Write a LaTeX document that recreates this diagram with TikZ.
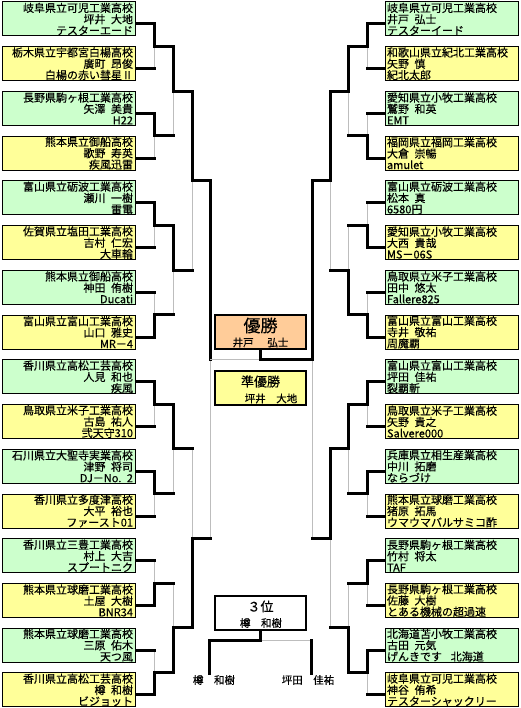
\documentclass[tikz,border=0pt]{standalone}
\usepackage{fontspec}
\setmainfont{Noto Sans CJK JP}[FakeBold=0.4]
\usetikzlibrary{calc,backgrounds}
\definecolor{gr}{HTML}{CCFFCC}
\definecolor{yl}{HTML}{FFFF99}
\definecolor{og}{HTML}{FFCC99}
\definecolor{lg}{HTML}{BDBDBD}
\newcommand{\bmatch}[5]{%
 \coordinate (#5x) at (#3,0);
 \coordinate (#5a) at (#1 -| #5x);
 \coordinate (#5b) at (#2 -| #5x);
 \coordinate (#5) at ($(#5a)!0.5!(#5b)$);
 \ifnum#4=1
  \draw[lose] (#5) -- (#5b);
  \draw[win] (#1) -- (#5a) -- (#5);
  \draw[win] (#2) -- (#5b);
 \else
  \draw[lose] (#5a) -- (#5);
  \draw[win] (#1) -- (#5a);
  \draw[win] (#2) -- (#5b) -- (#5);
 \fi
}
\begin{document}
\begin{tikzpicture}[x=1pt,y=-1pt,
 entry/.style={draw=black, line width=1pt, minimum width=133pt, minimum height=34pt, inner xsep=2pt, inner ysep=0pt, text width=129pt, font=\fontsize{11}{11.3}\selectfont},
 lft/.style={entry, align=right},
 rgt/.style={entry, align=left},
 win/.style={line width=3pt, line cap=rect},
 lose/.style={line width=1pt, draw=lg},
 cbox/.style={draw=black, line width=2pt, minimum width=91pt, minimum height=34pt, inner sep=0pt},
 ctext/.style={inner sep=0pt, font=\fontsize{10.5}{10.5}\selectfont},
]
\useasboundingbox (0,0) rectangle (520,708);
% left entries
\node[lft, fill=gr] (L1) at (68.5,19) {岐阜県立可児工業高校\\坪井\hspace{0.5em}大地\\テスターエード};
\node[lft, fill=yl] (L2) at (68.5,63.73) {栃木県立宇都宮白楊高校\\廣町\hspace{0.5em}昂俊\\白楊の赤い彗星Ⅱ};
\node[lft, fill=gr] (L3) at (68.5,108.46) {長野県駒ヶ根工業高校\\矢澤\hspace{0.5em}美貴\\H22};
\node[lft, fill=yl] (L4) at (68.5,153.19) {熊本県立御船高校\\歌野\hspace{0.5em}寿英\\疾風迅雷};
\node[lft, fill=gr] (L5) at (68.5,197.92) {富山県立砺波工業高校\\瀬川\hspace{0.5em}一樹\\雷電};
\node[lft, fill=yl] (L6) at (68.5,242.65) {佐賀県立塩田工業高校\\吉村\hspace{0.5em}仁宏\\大車輪};
\node[lft, fill=gr] (L7) at (68.5,287.38) {熊本県立御船高校\\神田\hspace{0.5em}侑樹\\Ducati};
\node[lft, fill=yl] (L8) at (68.5,332.11) {富山県立富山工業高校\\山口\hspace{0.5em}雅史\\MR－4};
\node[lft, fill=gr] (L9) at (68.5,376.84) {香川県立高松工芸高校\\人見\hspace{0.5em}和也\\疾風};
\node[lft, fill=yl] (L10) at (68.5,421.57) {鳥取県立米子工業高校\\古島\hspace{0.5em}祐人\\弐天守310};
\node[lft, fill=gr] (L11) at (68.5,466.3) {石川県立大聖寺実業高校\\津野\hspace{0.5em}将司\\DJ－No. 2};
\node[lft, fill=yl] (L12) at (68.5,511.03) {香川県立多度津高校\\大平\hspace{0.5em}裕也\\ファースト01};
\node[lft, fill=gr] (L13) at (68.5,555.76) {香川県立三豊工業高校\\村上\hspace{0.5em}大吉\\スプートニク};
\node[lft, fill=yl] (L14) at (68.5,600.49) {熊本県立球磨工業高校\\土屋\hspace{0.5em}大樹\\BNR34};
\node[lft, fill=gr] (L15) at (68.5,645.22) {熊本県立球磨工業高校\\三原\hspace{0.5em}佑木\\天つ風};
\node[lft, fill=yl] (L16) at (68.5,689.95) {香川県立高松工芸高校\\樽\hspace{0.5em}和樹\\ビジョット};
% right entries
\node[rgt, fill=gr] (R1) at (451.5,19) {岐阜県立可児工業高校\\井戸\hspace{0.5em}弘士\\テスターイード};
\node[rgt, fill=yl] (R2) at (451.5,63.73) {和歌山県立紀北工業高校\\矢野\hspace{0.5em}慎\\紀北太郎};
\node[rgt, fill=gr] (R3) at (451.5,108.46) {愛知県立小牧工業高校\\鷲野\hspace{0.5em}和英\\EMT};
\node[rgt, fill=yl] (R4) at (451.5,153.19) {福岡県立福岡工業高校\\大倉\hspace{0.5em}崇暢\\amulet};
\node[rgt, fill=gr] (R5) at (451.5,197.92) {富山県立砺波工業高校\\松本\hspace{0.5em}真\\6580円};
\node[rgt, fill=yl] (R6) at (451.5,242.65) {愛知県立小牧工業高校\\大西\hspace{0.5em}貴哉\\MS－06S};
\node[rgt, fill=gr] (R7) at (451.5,287.38) {鳥取県立米子工業高校\\田中\hspace{0.5em}悠太\\Fallere825};
\node[rgt, fill=yl] (R8) at (451.5,332.11) {富山県立富山工業高校\\寺井\hspace{0.5em}敬祐\\周魔覇};
\node[rgt, fill=gr] (R9) at (451.5,376.84) {富山県立富山工業高校\\坪田\hspace{0.5em}佳祐\\裂覇斬};
\node[rgt, fill=yl] (R10) at (451.5,421.57) {鳥取県立米子工業高校\\矢野\hspace{0.5em}貴之\\Salvere000};
\node[rgt, fill=gr] (R11) at (451.5,466.3) {兵庫県立相生産業高校\\中川\hspace{0.5em}拓磨\\ならづけ};
\node[rgt, fill=yl] (R12) at (451.5,511.03) {熊本県立球磨工業高校\\猪原\hspace{0.5em}拓馬\\ウマウマバルサミコ酢};
\node[rgt, fill=gr] (R13) at (451.5,555.76) {長野県駒ヶ根工業高校\\竹村\hspace{0.5em}将太\\TAF};
\node[rgt, fill=yl] (R14) at (451.5,600.49) {長野県駒ヶ根工業高校\\佐藤\hspace{0.5em}大樹\\とある機械の超過速};
\node[rgt, fill=gr] (R15) at (451.5,645.22) {北海道苫小牧工業高校\\古田\hspace{0.5em}元気\\げんきです\hspace{0.8em}北海道};
\node[rgt, fill=yl] (R16) at (451.5,689.95) {岐阜県立可児工業高校\\神谷\hspace{0.5em}侑希\\テスターシャックリー};
% centre boxes
\node[cbox, fill=og] (champ) at (260.5,332) {};
\node[inner sep=0pt, font=\fontsize{17}{17}\selectfont] (champt) at (260.5,325.5) {優勝};
\node[ctext] (champn) at (260.5,342.5) {井戸\hspace{1.3em}弘士};
\node[cbox, fill=yl] (second) at (260.5,388) {};
\node[inner sep=0pt, font=\fontsize{13}{13}\selectfont] (secondt) at (260.5,381.5) {準優勝};
\node[ctext] (secondn) at (271,398.5) {坪井\hspace{1em}大地};
\node[cbox, fill=white] (third) at (260.5,612.5) {};
\node[inner sep=0pt, font=\fontsize{13}{13}\selectfont] (thirdt) at (260.5,606.5) {３位};
\node[ctext] (thirdn) at (261,623) {樽\hspace{1em}和樹};
\node[ctext] (n3l) at (214,680) {樽\hspace{1em}和樹};
\node[ctext] (n3r) at (308,680) {坪田\hspace{1em}佳祐};
\foreach \i in {1,...,16} {
 \coordinate (L\i o) at ([yshift=-5pt]L\i.east);
 \coordinate (R\i o) at ([yshift=-5pt]R\i.west);
}
\begin{scope}[on background layer]
\fill[white] (0,0) rectangle (520,708);
% left bracket
\bmatch{L1o}{L2o}{154}{1}{la1}
\bmatch{L3o}{L4o}{154}{1}{la2}
\bmatch{L5o}{L6o}{154}{1}{la3}
\bmatch{L7o}{L8o}{154}{2}{la4}
\bmatch{L9o}{L10o}{154}{1}{la5}
\bmatch{L11o}{L12o}{154}{1}{la6}
\bmatch{L13o}{L14o}{154}{2}{la7}
\bmatch{L15o}{L16o}{154}{2}{la8}
\bmatch{la1}{la2}{173}{1}{lb1}
\bmatch{la3}{la4}{173}{1}{lb2}
\bmatch{la5}{la6}{173}{1}{lb3}
\bmatch{la7}{la8}{173}{2}{lb4}
\bmatch{lb1}{lb2}{192}{1}{lc1}
\bmatch{lb3}{lb4}{192}{2}{lc2}
\bmatch{lc1}{lc2}{210}{1}{lsf}
% right bracket
\bmatch{R1o}{R2o}{367}{1}{ra1}
\bmatch{R3o}{R4o}{367}{2}{ra2}
\bmatch{R5o}{R6o}{367}{2}{ra3}
\bmatch{R7o}{R8o}{367}{2}{ra4}
\bmatch{R9o}{R10o}{367}{1}{ra5}
\bmatch{R11o}{R12o}{367}{1}{ra6}
\bmatch{R13o}{R14o}{367}{1}{ra7}
\bmatch{R15o}{R16o}{367}{1}{ra8}
\bmatch{ra1}{ra2}{348}{1}{rb1}
\bmatch{ra3}{ra4}{348}{2}{rb2}
\bmatch{ra5}{ra6}{348}{1}{rb3}
\bmatch{ra7}{ra8}{348}{2}{rb4}
\bmatch{rb1}{rb2}{330}{1}{rc1}
\bmatch{rb3}{rb4}{330}{1}{rc2}
\bmatch{rc1}{rc2}{312}{1}{rsf}
% final
\coordinate (fm) at (champ.south |- lsf);
\draw[lose] (lsf) -- (fm);
\draw[win] (rsf) -- (fm) -- (champ.south);
% third place
\coordinate (t3m) at (260.5,640);
\coordinate (t3l) at (209.5,640);
\coordinate (t3r) at (311.5,640);
\coordinate (t3lb) at (209.5,673);
\coordinate (t3rb) at (311.5,673);
\draw[lose] (t3m) -- (t3r);
\draw[win] (third.south) -- (t3m) -- (t3l) -- (t3lb);
\draw[win] (t3r) -- (t3rb);
\end{scope}
\end{tikzpicture}
\end{document}
